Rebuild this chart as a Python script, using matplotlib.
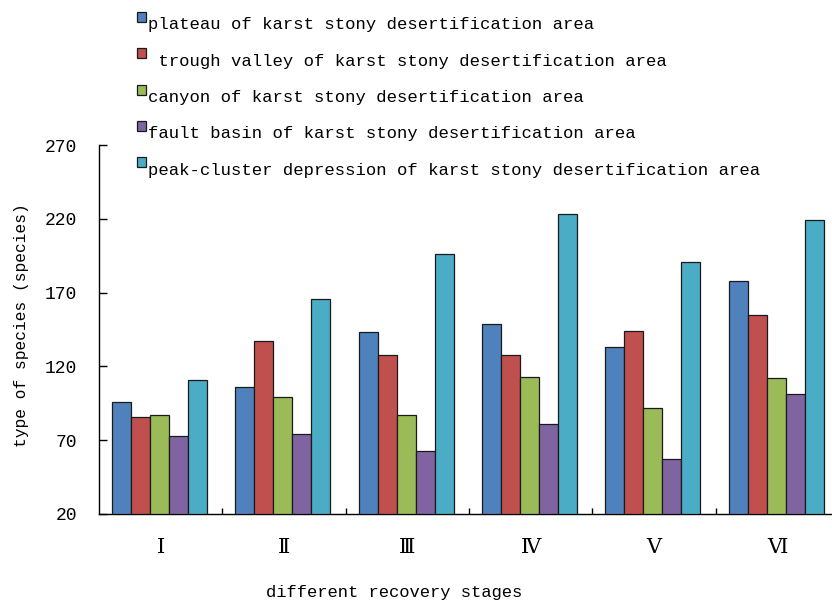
import matplotlib
matplotlib.use("Agg")
import matplotlib.pyplot as plt
from matplotlib.patches import Rectangle
import numpy as np

stages = ["Ⅰ", "Ⅱ", "Ⅲ", "Ⅳ", "Ⅴ", "Ⅵ"]
series_names = [
    "plateau of karst stony desertification area",
    " trough valley of karst stony desertification area",
    "canyon of karst stony desertification area",
    "fault basin of karst stony desertification area",
    "peak-cluster depression of karst stony desertification area",
]
plateau = [96, 106, 143, 149, 133, 178]
trough = [86, 137, 128, 128, 144, 155]
canyon = [87, 99, 87, 113, 92, 112]
fault = [73, 74, 63, 81, 57, 101]
peak = [111, 166, 196, 223, 191, 219]
values = [plateau, trough, canyon, fault, peak]
colors = ["#4F81BD", "#C0504D", "#9BBB59", "#8064A2", "#4BACC6"]
yticks = [20, 70, 120, 170, 220, 270]

W, H = 832, 603
fig = plt.figure(figsize=(W / 100, H / 100), dpi=100)
ax = fig.add_axes([99 / W, (H - 514) / H, (839 - 99) / W, (514 - 145) / H])

mono = ["Liberation Mono", "DejaVu Sans Mono"]

x = np.arange(len(stages))
bw = 0.154
for i, (vals, c) in enumerate(zip(values, colors)):
    ax.bar(x + (i - 2) * bw - 0.01, np.array(vals) - 20, bottom=20, width=bw,
           color=c, edgecolor="#1a1a1a", linewidth=0.9, zorder=3)

ax.set_xlim(-0.5, 5.5)
ax.set_ylim(20, 270)
ax.set_yticks(yticks)
ax.set_yticklabels([str(t) for t in yticks], family=mono, fontsize=13)
ax.set_xticks(np.arange(0.5, 5.5, 1.0))
ax.set_xticklabels([])
ax.tick_params(axis="y", direction="in", length=6, width=1, pad=16)
ax.tick_params(axis="x", direction="in", length=4, width=1)
for s in ["top", "right"]:
    ax.spines[s].set_visible(False)
for s in ["left", "bottom"]:
    ax.spines[s].set_linewidth(1.0)

for xi, lab in zip(x, stages):
    ax.text(xi, -0.09, lab, transform=ax.get_xaxis_transform(), ha="center",
            va="center", fontsize=15, family=["DejaVu Serif", "Noto Sans CJK SC"])

fig.text(394 / W, 1 - 593 / H, "different recovery stages", ha="center",
         va="center", family=mono, fontsize=12.3)
fig.text(22 / W, 1 - 325 / H, "type of species (species)", ha="center",
         va="center", rotation=90, family=mono, fontsize=11.7)

# legend
for i, (name, c) in enumerate(zip(series_names, colors)):
    yc = 25 + 36.3 * i
    fig.patches.append(Rectangle((137 / W, 1 - (yc - 3) / H), 9 / W, 10 / H,
                                 transform=fig.transFigure, facecolor=c,
                                 edgecolor="#1a1a1a", linewidth=0.9))
    fig.text(148 / W, 1 - yc / H, name, ha="left", va="center",
             family=mono, fontsize=12.4)

fig.savefig("out.png", dpi=100)
